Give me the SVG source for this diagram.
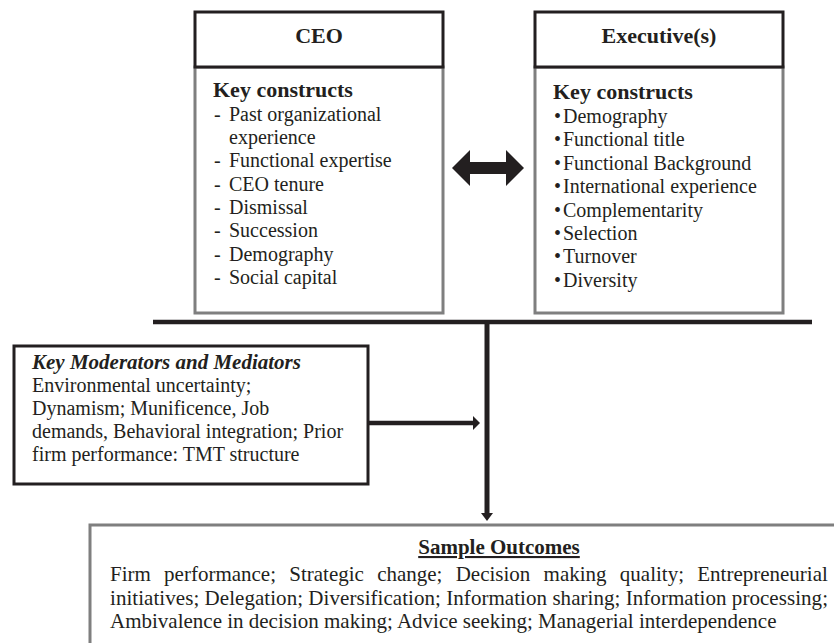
<svg xmlns="http://www.w3.org/2000/svg" width="834" height="643" viewBox="0 0 834 643">
<style>
text{font-family:"Liberation Serif","Times New Roman",serif;fill:#231f20}
.h{font-weight:bold;font-size:22px}
.k{font-weight:bold;font-size:22px}
.i{font-size:20px}
.o{font-size:21px}
.dark{fill:#fff;stroke:#231f20;stroke-width:3}
.gray{fill:#fff;stroke:#7f7f7f;stroke-width:3}
.ln{stroke:#231f20;fill:none}
</style>
<rect width="834" height="643" fill="#fff"/>
<g id="ceo">
<rect class="gray" x="195" y="67" width="248" height="246"/>
<rect class="dark" x="195" y="12" width="248" height="55"/>
<text class="h" x="319" y="43" text-anchor="middle">CEO</text>
<text class="k" x="213" y="97">Key constructs</text>
<g class="i">
<text x="214" y="121">-</text><text x="229" y="121">Past organizational</text>
<text x="229" y="144">experience</text>
<text x="214" y="167">-</text><text x="229" y="167">Functional expertise</text>
<text x="214" y="191">-</text><text x="229" y="191">CEO tenure</text>
<text x="214" y="214">-</text><text x="229" y="214">Dismissal</text>
<text x="214" y="237">-</text><text x="229" y="237">Succession</text>
<text x="214" y="261">-</text><text x="229" y="261">Demography</text>
<text x="214" y="284">-</text><text x="229" y="284">Social capital</text>
</g>
</g>
<g id="executives">
<rect class="gray" x="535" y="67" width="248" height="246"/>
<rect class="dark" x="535" y="12" width="248" height="55"/>
<text class="h" x="659" y="43" text-anchor="middle">Executive(s)</text>
<text class="k" x="553" y="99">Key constructs</text>
<g class="i">
<text x="554" y="123">•</text><text x="563" y="123">Demography</text>
<text x="554" y="146">•</text><text x="563" y="146">Functional title</text>
<text x="554" y="170">•</text><text x="563" y="170">Functional Background</text>
<text x="554" y="193">•</text><text x="563" y="193">International experience</text>
<text x="554" y="217">•</text><text x="563" y="217">Complementarity</text>
<text x="554" y="240">•</text><text x="563" y="240">Selection</text>
<text x="554" y="263">•</text><text x="563" y="263">Turnover</text>
<text x="554" y="287">•</text><text x="563" y="287">Diversity</text>
</g>
</g>
<g id="moderators">
<rect class="dark" x="14" y="346" width="354" height="138"/>
<text x="32" y="369" style="font-weight:bold;font-style:italic;font-size:21px">Key Moderators and Mediators</text>
<g class="i">
<text x="32" y="392">Environmental uncertainty;</text>
<text x="32" y="415">Dynamism; Munificence, Job</text>
<text x="32" y="438">demands, Behavioral integration; Prior</text>
<text x="32" y="461">firm performance: TMT structure</text>
</g>
</g>
<g id="outcomes">
<rect class="gray" x="90" y="525" width="760" height="130"/>
<text x="499" y="554" text-anchor="middle" text-decoration="underline" style="font-weight:bold;font-size:21px">Sample Outcomes</text>
<g class="o">
<text x="110" y="581" word-spacing="8">Firm performance; Strategic change; Decision making quality; Entrepreneurial</text>
<text x="110" y="605" textLength="718" lengthAdjust="spacing">initiatives; Delegation; Diversification; Information sharing; Information processing;</text>
<text x="110" y="628">Ambivalence in decision making; Advice seeking; Managerial interdependence</text>
</g>
</g>
<g id="connectors">
<polygon points="452,168 470,150 470,162 506,162 506,150 524,168 506,186 506,174 470,174 470,186" fill="#231f20"/>
<line class="ln" x1="153" y1="322" x2="812" y2="322" stroke-width="4.5"/>
<line class="ln" x1="487" y1="320" x2="487" y2="514" stroke-width="5"/>
<polygon points="481,513 493,513 487,521" fill="#231f20"/>
<line class="ln" x1="368" y1="423" x2="474" y2="423" stroke-width="4.5"/>
<polygon points="473,416 480,423 473,430" fill="#231f20"/>
</g>
</svg>
